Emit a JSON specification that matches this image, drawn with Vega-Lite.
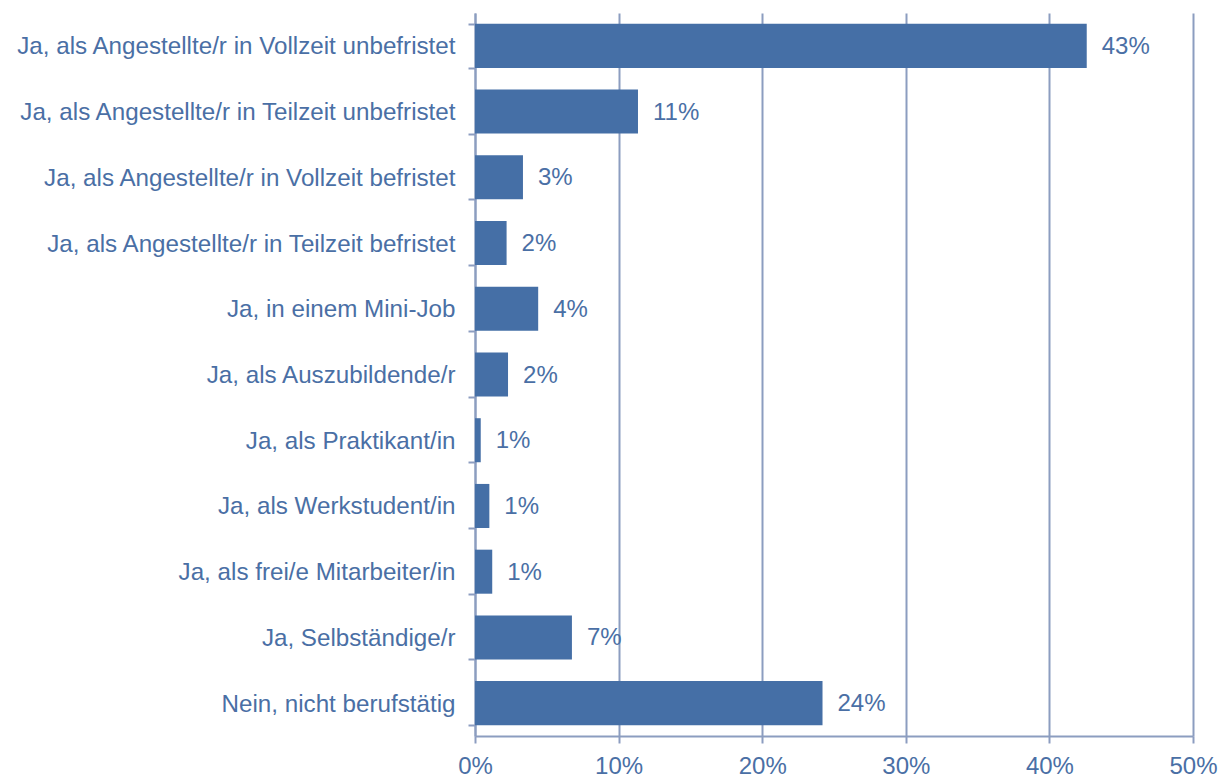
{
  "$schema": "https://vega.github.io/schema/vega-lite/v6.json",
  "autosize": "none",
  "padding": {"left": 475, "top": 13, "right": 29, "bottom": 43},
  "width": 718,
  "height": 723,
  "background": "white",
  "config": {
    "view": {"stroke": null},
    "font": "Liberation Sans"
  },
  "data": {
    "values": [
      {"kategorie": "Ja, als Angestellte/r in Vollzeit unbefristet", "anteil": 0.426, "label": "43%"},
      {"kategorie": "Ja, als Angestellte/r in Teilzeit unbefristet", "anteil": 0.1135, "label": "11%"},
      {"kategorie": "Ja, als Angestellte/r in Vollzeit befristet", "anteil": 0.0334, "label": "3%"},
      {"kategorie": "Ja, als Angestellte/r in Teilzeit befristet", "anteil": 0.022, "label": "2%"},
      {"kategorie": "Ja, in einem Mini-Job", "anteil": 0.044, "label": "4%"},
      {"kategorie": "Ja, als Auszubildende/r", "anteil": 0.023, "label": "2%"},
      {"kategorie": "Ja, als Praktikant/in", "anteil": 0.004, "label": "1%"},
      {"kategorie": "Ja, als Werkstudent/in", "anteil": 0.010, "label": "1%"},
      {"kategorie": "Ja, als frei/e Mitarbeiter/in", "anteil": 0.012, "label": "1%"},
      {"kategorie": "Ja, Selbständige/r", "anteil": 0.0675, "label": "7%"},
      {"kategorie": "Nein, nicht berufstätig", "anteil": 0.242, "label": "24%"}
    ]
  },
  "encoding": {
    "y": {
      "field": "kategorie",
      "type": "nominal",
      "sort": null,
      "scale": {"paddingInner": 0.33, "paddingOuter": 0.165},
      "axis": {
        "title": null,
        "tickBand": "extent",
        "domainColor": "#8C9DC0",
        "domainWidth": 2,
        "tickColor": "#8C9DC0",
        "tickWidth": 2,
        "tickSize": 7,
        "labelFont": "Liberation Sans",
        "labelFontSize": 24.2,
        "labelColor": "#4A6FA5",
        "labelPadding": 13,
        "labelLimit": 600,
        "labelOffset": 1
      }
    },
    "x": {
      "field": "anteil",
      "type": "quantitative",
      "scale": {"domain": [0, 0.5], "nice": false},
      "axis": {
        "title": null,
        "values": [0, 0.1, 0.2, 0.3, 0.4, 0.5],
        "format": ".0%",
        "grid": true,
        "gridColor": "#8C9DC0",
        "gridWidth": 2,
        "gridOpacity": 1,
        "domainColor": "#8C9DC0",
        "domainWidth": 2,
        "tickColor": "#8C9DC0",
        "tickWidth": 2,
        "tickSize": 7,
        "labelFont": "Liberation Sans",
        "labelFontSize": 24,
        "labelColor": "#4A6FA5",
        "labelPadding": 11,
        "labelFlush": false
      }
    }
  },
  "layer": [
    {"mark": {"type": "bar", "color": "#456FA6"}},
    {
      "mark": {"type": "text", "align": "left", "baseline": "middle", "dx": 15, "dy": 1, "font": "Liberation Sans", "fontSize": 24, "color": "#4A6FA5"},
      "encoding": {"text": {"field": "label"}}
    }
  ]
}
